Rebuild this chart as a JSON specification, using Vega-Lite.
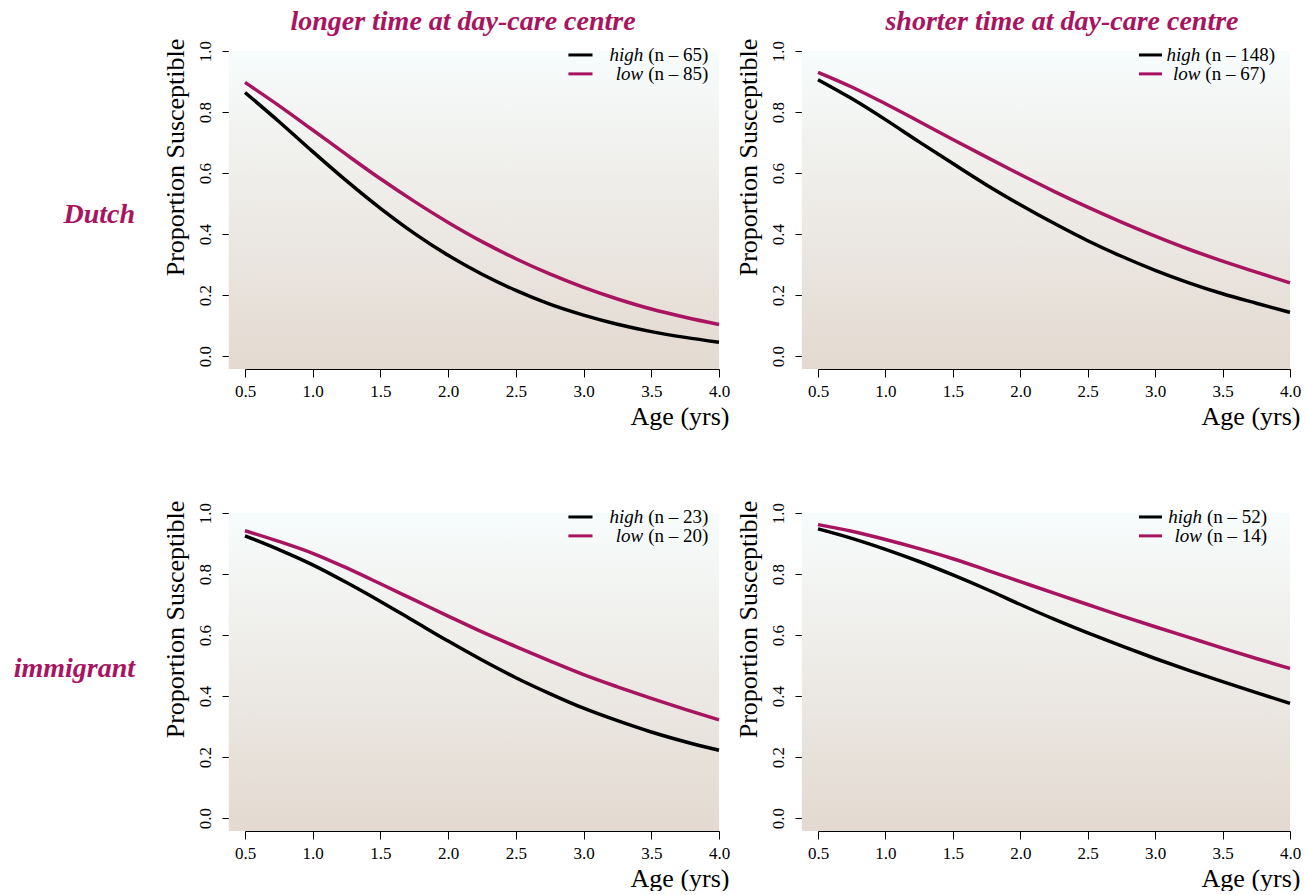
{
  "$schema": "https://vega.github.io/schema/vega-lite/v6.json",
  "background": "white",
  "padding": {"left": 13, "top": 8, "right": 5, "bottom": 0},
  "config": {
    "font": "Liberation Serif",
    "view": {"stroke": null},
    "axis": {"grid": false, "domainColor": "black", "tickColor": "black", "labelColor": "black", "titleColor": "black", "labelFontSize": 17, "titleFontSize": 26, "titleFontWeight": "normal", "tickSize": 8, "labelFlush": false, "labelOverlap": false},
    "axisX": {"offset": 13, "labelPadding": 6, "titleAnchor": "end", "titleAlign": "right", "titleX": 484, "titlePadding": 4},
    "axisY": {"offset": 15, "labelPadding": 8, "labelAngle": 270, "labelAlign": "center", "labelBaseline": "bottom", "titleAngle": 270, "titleAlign": "center", "titleY": 106, "titlePadding": 8}
  },
  "datasets": {
    "curves": [
      {"origin":"Dutch","time":"longer","risk":"high","age":0.5,"prop":0.864},{"origin":"Dutch","time":"longer","risk":"high","age":0.75,"prop":0.769},{"origin":"Dutch","time":"longer","risk":"high","age":1,"prop":0.670},{"origin":"Dutch","time":"longer","risk":"high","age":1.25,"prop":0.574},{"origin":"Dutch","time":"longer","risk":"high","age":1.5,"prop":0.484},{"origin":"Dutch","time":"longer","risk":"high","age":1.75,"prop":0.402},{"origin":"Dutch","time":"longer","risk":"high","age":2,"prop":0.330},{"origin":"Dutch","time":"longer","risk":"high","age":2.25,"prop":0.268},{"origin":"Dutch","time":"longer","risk":"high","age":2.5,"prop":0.215},{"origin":"Dutch","time":"longer","risk":"high","age":2.75,"prop":0.170},{"origin":"Dutch","time":"longer","risk":"high","age":3,"prop":0.134},{"origin":"Dutch","time":"longer","risk":"high","age":3.25,"prop":0.104},{"origin":"Dutch","time":"longer","risk":"high","age":3.5,"prop":0.080},{"origin":"Dutch","time":"longer","risk":"high","age":3.75,"prop":0.061},{"origin":"Dutch","time":"longer","risk":"high","age":4,"prop":0.045},
      {"origin":"Dutch","time":"longer","risk":"low","age":0.5,"prop":0.897},{"origin":"Dutch","time":"longer","risk":"low","age":0.75,"prop":0.821},{"origin":"Dutch","time":"longer","risk":"low","age":1,"prop":0.741},{"origin":"Dutch","time":"longer","risk":"low","age":1.25,"prop":0.660},{"origin":"Dutch","time":"longer","risk":"low","age":1.5,"prop":0.581},{"origin":"Dutch","time":"longer","risk":"low","age":1.75,"prop":0.507},{"origin":"Dutch","time":"longer","risk":"low","age":2,"prop":0.438},{"origin":"Dutch","time":"longer","risk":"low","age":2.25,"prop":0.375},{"origin":"Dutch","time":"longer","risk":"low","age":2.5,"prop":0.319},{"origin":"Dutch","time":"longer","risk":"low","age":2.75,"prop":0.269},{"origin":"Dutch","time":"longer","risk":"low","age":3,"prop":0.225},{"origin":"Dutch","time":"longer","risk":"low","age":3.25,"prop":0.187},{"origin":"Dutch","time":"longer","risk":"low","age":3.5,"prop":0.154},{"origin":"Dutch","time":"longer","risk":"low","age":3.75,"prop":0.127},{"origin":"Dutch","time":"longer","risk":"low","age":4,"prop":0.103},
      {"origin":"Dutch","time":"shorter","risk":"high","age":0.5,"prop":0.906},{"origin":"Dutch","time":"shorter","risk":"high","age":0.75,"prop":0.844},{"origin":"Dutch","time":"shorter","risk":"high","age":1,"prop":0.775},{"origin":"Dutch","time":"shorter","risk":"high","age":1.25,"prop":0.702},{"origin":"Dutch","time":"shorter","risk":"high","age":1.5,"prop":0.631},{"origin":"Dutch","time":"shorter","risk":"high","age":1.75,"prop":0.561},{"origin":"Dutch","time":"shorter","risk":"high","age":2,"prop":0.496},{"origin":"Dutch","time":"shorter","risk":"high","age":2.25,"prop":0.435},{"origin":"Dutch","time":"shorter","risk":"high","age":2.5,"prop":0.378},{"origin":"Dutch","time":"shorter","risk":"high","age":2.75,"prop":0.327},{"origin":"Dutch","time":"shorter","risk":"high","age":3,"prop":0.281},{"origin":"Dutch","time":"shorter","risk":"high","age":3.25,"prop":0.240},{"origin":"Dutch","time":"shorter","risk":"high","age":3.5,"prop":0.204},{"origin":"Dutch","time":"shorter","risk":"high","age":3.75,"prop":0.173},{"origin":"Dutch","time":"shorter","risk":"high","age":4,"prop":0.143},
      {"origin":"Dutch","time":"shorter","risk":"low","age":0.5,"prop":0.930},{"origin":"Dutch","time":"shorter","risk":"low","age":0.75,"prop":0.882},{"origin":"Dutch","time":"shorter","risk":"low","age":1,"prop":0.827},{"origin":"Dutch","time":"shorter","risk":"low","age":1.25,"prop":0.769},{"origin":"Dutch","time":"shorter","risk":"low","age":1.5,"prop":0.710},{"origin":"Dutch","time":"shorter","risk":"low","age":1.75,"prop":0.652},{"origin":"Dutch","time":"shorter","risk":"low","age":2,"prop":0.595},{"origin":"Dutch","time":"shorter","risk":"low","age":2.25,"prop":0.540},{"origin":"Dutch","time":"shorter","risk":"low","age":2.5,"prop":0.488},{"origin":"Dutch","time":"shorter","risk":"low","age":2.75,"prop":0.439},{"origin":"Dutch","time":"shorter","risk":"low","age":3,"prop":0.393},{"origin":"Dutch","time":"shorter","risk":"low","age":3.25,"prop":0.350},{"origin":"Dutch","time":"shorter","risk":"low","age":3.5,"prop":0.311},{"origin":"Dutch","time":"shorter","risk":"low","age":3.75,"prop":0.275},{"origin":"Dutch","time":"shorter","risk":"low","age":4,"prop":0.240},
      {"origin":"immigrant","time":"longer","risk":"high","age":0.5,"prop":0.925},{"origin":"immigrant","time":"longer","risk":"high","age":0.75,"prop":0.880},{"origin":"immigrant","time":"longer","risk":"high","age":1,"prop":0.830},{"origin":"immigrant","time":"longer","risk":"high","age":1.25,"prop":0.772},{"origin":"immigrant","time":"longer","risk":"high","age":1.5,"prop":0.710},{"origin":"immigrant","time":"longer","risk":"high","age":1.75,"prop":0.645},{"origin":"immigrant","time":"longer","risk":"high","age":2,"prop":0.580},{"origin":"immigrant","time":"longer","risk":"high","age":2.25,"prop":0.518},{"origin":"immigrant","time":"longer","risk":"high","age":2.5,"prop":0.460},{"origin":"immigrant","time":"longer","risk":"high","age":2.75,"prop":0.408},{"origin":"immigrant","time":"longer","risk":"high","age":3,"prop":0.360},{"origin":"immigrant","time":"longer","risk":"high","age":3.25,"prop":0.319},{"origin":"immigrant","time":"longer","risk":"high","age":3.5,"prop":0.282},{"origin":"immigrant","time":"longer","risk":"high","age":3.75,"prop":0.250},{"origin":"immigrant","time":"longer","risk":"high","age":4,"prop":0.222},
      {"origin":"immigrant","time":"longer","risk":"low","age":0.5,"prop":0.942},{"origin":"immigrant","time":"longer","risk":"low","age":0.75,"prop":0.907},{"origin":"immigrant","time":"longer","risk":"low","age":1,"prop":0.868},{"origin":"immigrant","time":"longer","risk":"low","age":1.25,"prop":0.820},{"origin":"immigrant","time":"longer","risk":"low","age":1.5,"prop":0.768},{"origin":"immigrant","time":"longer","risk":"low","age":1.75,"prop":0.715},{"origin":"immigrant","time":"longer","risk":"low","age":2,"prop":0.662},{"origin":"immigrant","time":"longer","risk":"low","age":2.25,"prop":0.610},{"origin":"immigrant","time":"longer","risk":"low","age":2.5,"prop":0.562},{"origin":"immigrant","time":"longer","risk":"low","age":2.75,"prop":0.515},{"origin":"immigrant","time":"longer","risk":"low","age":3,"prop":0.470},{"origin":"immigrant","time":"longer","risk":"low","age":3.25,"prop":0.430},{"origin":"immigrant","time":"longer","risk":"low","age":3.5,"prop":0.392},{"origin":"immigrant","time":"longer","risk":"low","age":3.75,"prop":0.356},{"origin":"immigrant","time":"longer","risk":"low","age":4,"prop":0.322},
      {"origin":"immigrant","time":"shorter","risk":"high","age":0.5,"prop":0.948},{"origin":"immigrant","time":"shorter","risk":"high","age":0.75,"prop":0.917},{"origin":"immigrant","time":"shorter","risk":"high","age":1,"prop":0.881},{"origin":"immigrant","time":"shorter","risk":"high","age":1.25,"prop":0.841},{"origin":"immigrant","time":"shorter","risk":"high","age":1.5,"prop":0.797},{"origin":"immigrant","time":"shorter","risk":"high","age":1.75,"prop":0.750},{"origin":"immigrant","time":"shorter","risk":"high","age":2,"prop":0.700},{"origin":"immigrant","time":"shorter","risk":"high","age":2.25,"prop":0.652},{"origin":"immigrant","time":"shorter","risk":"high","age":2.5,"prop":0.607},{"origin":"immigrant","time":"shorter","risk":"high","age":2.75,"prop":0.564},{"origin":"immigrant","time":"shorter","risk":"high","age":3,"prop":0.523},{"origin":"immigrant","time":"shorter","risk":"high","age":3.25,"prop":0.484},{"origin":"immigrant","time":"shorter","risk":"high","age":3.5,"prop":0.447},{"origin":"immigrant","time":"shorter","risk":"high","age":3.75,"prop":0.411},{"origin":"immigrant","time":"shorter","risk":"high","age":4,"prop":0.376},
      {"origin":"immigrant","time":"shorter","risk":"low","age":0.5,"prop":0.962},{"origin":"immigrant","time":"shorter","risk":"low","age":0.75,"prop":0.940},{"origin":"immigrant","time":"shorter","risk":"low","age":1,"prop":0.913},{"origin":"immigrant","time":"shorter","risk":"low","age":1.25,"prop":0.883},{"origin":"immigrant","time":"shorter","risk":"low","age":1.5,"prop":0.850},{"origin":"immigrant","time":"shorter","risk":"low","age":1.75,"prop":0.813},{"origin":"immigrant","time":"shorter","risk":"low","age":2,"prop":0.775},{"origin":"immigrant","time":"shorter","risk":"low","age":2.25,"prop":0.737},{"origin":"immigrant","time":"shorter","risk":"low","age":2.5,"prop":0.700},{"origin":"immigrant","time":"shorter","risk":"low","age":2.75,"prop":0.663},{"origin":"immigrant","time":"shorter","risk":"low","age":3,"prop":0.627},{"origin":"immigrant","time":"shorter","risk":"low","age":3.25,"prop":0.592},{"origin":"immigrant","time":"shorter","risk":"low","age":3.5,"prop":0.557},{"origin":"immigrant","time":"shorter","risk":"low","age":3.75,"prop":0.523},{"origin":"immigrant","time":"shorter","risk":"low","age":4,"prop":0.490}
    ],
    "legend": [
      {"origin":"Dutch","time":"longer","risk":"high","n":"(n – 65)"},
      {"origin":"Dutch","time":"longer","risk":"low","n":"(n – 85)"},
      {"origin":"Dutch","time":"shorter","risk":"high","n":"(n – 148)"},
      {"origin":"Dutch","time":"shorter","risk":"low","n":"(n – 67)"},
      {"origin":"immigrant","time":"longer","risk":"high","n":"(n – 23)"},
      {"origin":"immigrant","time":"longer","risk":"low","n":"(n – 20)"},
      {"origin":"immigrant","time":"shorter","risk":"high","n":"(n – 52)"},
      {"origin":"immigrant","time":"shorter","risk":"low","n":"(n – 14)"}
    ]
  },
  "spacing": 71,
  "vconcat": [
    {
      "title": {"text": "Dutch", "orient": "left", "angle": 0, "align": "left", "baseline": "middle", "anchor": "middle", "offset": 27, "dy": -4, "fontSize": 28, "fontStyle": "italic", "fontWeight": "bold", "color": "#A8145F"},
      "spacing": 4,
      "hconcat": [
        {
          "width": 474, "height": 305,
          "title": {"text": "longer time at day-care centre", "fontSize": 28, "fontStyle": "italic", "fontWeight": "bold", "color": "#A8145F", "anchor": "middle", "offset": 2, "dx": -19},
          "layer": [
            {"data": {"values": [{"bg": 1}]}, "mark": {"type": "rect", "color": {"gradient": "linear", "x1": 0, "y1": 0, "x2": 0, "y2": 1, "stops": [{"offset": 0, "color": "#F7FCFC"}, {"offset": 1, "color": "#E3D9D0"}]}},
             "encoding": {"x": {"datum": 0.38, "type": "quantitative", "scale": {"domain": [0.5, 4], "nice": false, "zero": false}, "axis": {"values": [0.5, 1, 1.5, 2, 2.5, 3, 3.5, 4], "format": ".1f"}}, "x2": {"datum": 4}, "y": {"datum": -0.043, "type": "quantitative", "scale": {"domain": [0, 1], "nice": false}, "axis": {"values": [0, 0.2, 0.4, 0.6, 0.8, 1], "format": ".1f"}}, "y2": {"datum": 1}}},
            {"data": {"name": "curves"}, "transform": [{"filter": "datum.origin == 'Dutch' && datum.time == 'longer'"}], "mark": {"type": "line", "strokeWidth": 3.5, "interpolate": "monotone"},
             "encoding": {"x": {"field": "age", "type": "quantitative", "title": "Age (yrs)"}, "y": {"field": "prop", "type": "quantitative", "title": "Proportion Susceptible"}, "color": {"field": "risk", "type": "nominal", "scale": {"domain": ["high", "low"], "range": ["#000000", "#A8145F"]}, "legend": null}}},
            {"data": {"name": "legend"}, "transform": [{"filter": "datum.origin == 'Dutch' && datum.time == 'longer' && datum.risk == 'high'"}], "mark": {"type": "rule", "strokeWidth": 3}, "encoding": {"x": {"datum": 2.888}, "x2": {"datum": 3.066}, "y": {"datum": 0.987}, "color": {"field": "risk", "type": "nominal", "legend": null}}},
            {"data": {"name": "legend"}, "transform": [{"filter": "datum.origin == 'Dutch' && datum.time == 'longer' && datum.risk == 'low'"}], "mark": {"type": "rule", "strokeWidth": 3}, "encoding": {"x": {"datum": 2.888}, "x2": {"datum": 3.066}, "y": {"datum": 0.925}, "color": {"field": "risk", "type": "nominal", "legend": null}}},
            {"data": {"name": "legend"}, "transform": [{"filter": "datum.origin == 'Dutch' && datum.time == 'longer' && datum.risk == 'high'"}], "mark": {"type": "text", "fontSize": 19, "fontStyle": "italic", "align": "right", "baseline": "middle", "dx": -2}, "encoding": {"x": {"datum": 3.455}, "y": {"datum": 0.987}, "text": {"field": "risk"}}},
            {"data": {"name": "legend"}, "transform": [{"filter": "datum.origin == 'Dutch' && datum.time == 'longer' && datum.risk == 'low'"}], "mark": {"type": "text", "fontSize": 19, "fontStyle": "italic", "align": "right", "baseline": "middle", "dx": -2}, "encoding": {"x": {"datum": 3.455}, "y": {"datum": 0.925}, "text": {"field": "risk"}}},
            {"data": {"name": "legend"}, "transform": [{"filter": "datum.origin == 'Dutch' && datum.time == 'longer' && datum.risk == 'high'"}], "mark": {"type": "text", "fontSize": 19, "align": "left", "baseline": "middle", "dx": 3}, "encoding": {"x": {"datum": 3.455}, "y": {"datum": 0.987}, "text": {"field": "n"}}},
            {"data": {"name": "legend"}, "transform": [{"filter": "datum.origin == 'Dutch' && datum.time == 'longer' && datum.risk == 'low'"}], "mark": {"type": "text", "fontSize": 19, "align": "left", "baseline": "middle", "dx": 3}, "encoding": {"x": {"datum": 3.455}, "y": {"datum": 0.925}, "text": {"field": "n"}}}
          ]
        },
        {
          "width": 472, "height": 305,
          "title": {"text": "shorter time at day-care centre", "fontSize": 28, "fontStyle": "italic", "fontWeight": "bold", "color": "#A8145F", "anchor": "middle", "offset": 2, "dx": 8},
          "layer": [
            {"data": {"values": [{"bg": 1}]}, "mark": {"type": "rect", "color": {"gradient": "linear", "x1": 0, "y1": 0, "x2": 0, "y2": 1, "stops": [{"offset": 0, "color": "#F7FCFC"}, {"offset": 1, "color": "#E3D9D0"}]}},
             "encoding": {"x": {"datum": 0.38, "type": "quantitative", "scale": {"domain": [0.5, 4], "nice": false, "zero": false}, "axis": {"values": [0.5, 1, 1.5, 2, 2.5, 3, 3.5, 4], "format": ".1f", "titleX": 482}}, "x2": {"datum": 4}, "y": {"datum": -0.043, "type": "quantitative", "scale": {"domain": [0, 1], "nice": false}, "axis": {"values": [0, 0.2, 0.4, 0.6, 0.8, 1], "format": ".1f"}}, "y2": {"datum": 1}}},
            {"data": {"name": "curves"}, "transform": [{"filter": "datum.origin == 'Dutch' && datum.time == 'shorter'"}], "mark": {"type": "line", "strokeWidth": 3.5, "interpolate": "monotone"},
             "encoding": {"x": {"field": "age", "type": "quantitative", "title": "Age (yrs)"}, "y": {"field": "prop", "type": "quantitative", "title": "Proportion Susceptible"}, "color": {"field": "risk", "type": "nominal", "scale": {"domain": ["high", "low"], "range": ["#000000", "#A8145F"]}, "legend": null}}},
            {"data": {"name": "legend"}, "transform": [{"filter": "datum.origin == 'Dutch' && datum.time == 'shorter' && datum.risk == 'high'"}], "mark": {"type": "rule", "strokeWidth": 3}, "encoding": {"x": {"datum": 2.88}, "x2": {"datum": 3.051}, "y": {"datum": 0.987}, "color": {"field": "risk", "type": "nominal", "legend": null}}},
            {"data": {"name": "legend"}, "transform": [{"filter": "datum.origin == 'Dutch' && datum.time == 'shorter' && datum.risk == 'low'"}], "mark": {"type": "rule", "strokeWidth": 3}, "encoding": {"x": {"datum": 2.88}, "x2": {"datum": 3.051}, "y": {"datum": 0.925}, "color": {"field": "risk", "type": "nominal", "legend": null}}},
            {"data": {"name": "legend"}, "transform": [{"filter": "datum.origin == 'Dutch' && datum.time == 'shorter' && datum.risk == 'high'"}], "mark": {"type": "text", "fontSize": 19, "fontStyle": "italic", "align": "right", "baseline": "middle", "dx": -2}, "encoding": {"x": {"datum": 3.35}, "y": {"datum": 0.987}, "text": {"field": "risk"}}},
            {"data": {"name": "legend"}, "transform": [{"filter": "datum.origin == 'Dutch' && datum.time == 'shorter' && datum.risk == 'low'"}], "mark": {"type": "text", "fontSize": 19, "fontStyle": "italic", "align": "right", "baseline": "middle", "dx": -2}, "encoding": {"x": {"datum": 3.35}, "y": {"datum": 0.925}, "text": {"field": "risk"}}},
            {"data": {"name": "legend"}, "transform": [{"filter": "datum.origin == 'Dutch' && datum.time == 'shorter' && datum.risk == 'high'"}], "mark": {"type": "text", "fontSize": 19, "align": "left", "baseline": "middle", "dx": 3}, "encoding": {"x": {"datum": 3.35}, "y": {"datum": 0.987}, "text": {"field": "n"}}},
            {"data": {"name": "legend"}, "transform": [{"filter": "datum.origin == 'Dutch' && datum.time == 'shorter' && datum.risk == 'low'"}], "mark": {"type": "text", "fontSize": 19, "align": "left", "baseline": "middle", "dx": 3}, "encoding": {"x": {"datum": 3.35}, "y": {"datum": 0.925}, "text": {"field": "n"}}}
          ]
        }
      ]
    },
    {
      "title": {"text": "immigrant", "orient": "left", "angle": 0, "align": "left", "baseline": "middle", "anchor": "middle", "offset": 27, "dy": -27, "fontSize": 28, "fontStyle": "italic", "fontWeight": "bold", "color": "#A8145F"},
      "spacing": 4,
      "hconcat": [
        {
          "width": 474, "height": 305,
          "layer": [
            {"data": {"values": [{"bg": 1}]}, "mark": {"type": "rect", "color": {"gradient": "linear", "x1": 0, "y1": 0, "x2": 0, "y2": 1, "stops": [{"offset": 0, "color": "#F7FCFC"}, {"offset": 1, "color": "#E3D9D0"}]}},
             "encoding": {"x": {"datum": 0.38, "type": "quantitative", "scale": {"domain": [0.5, 4], "nice": false, "zero": false}, "axis": {"values": [0.5, 1, 1.5, 2, 2.5, 3, 3.5, 4], "format": ".1f"}}, "x2": {"datum": 4}, "y": {"datum": -0.043, "type": "quantitative", "scale": {"domain": [0, 1], "nice": false}, "axis": {"values": [0, 0.2, 0.4, 0.6, 0.8, 1], "format": ".1f"}}, "y2": {"datum": 1}}},
            {"data": {"name": "curves"}, "transform": [{"filter": "datum.origin == 'immigrant' && datum.time == 'longer'"}], "mark": {"type": "line", "strokeWidth": 3.5, "interpolate": "monotone"},
             "encoding": {"x": {"field": "age", "type": "quantitative", "title": "Age (yrs)"}, "y": {"field": "prop", "type": "quantitative", "title": "Proportion Susceptible"}, "color": {"field": "risk", "type": "nominal", "scale": {"domain": ["high", "low"], "range": ["#000000", "#A8145F"]}, "legend": null}}},
            {"data": {"name": "legend"}, "transform": [{"filter": "datum.origin == 'immigrant' && datum.time == 'longer' && datum.risk == 'high'"}], "mark": {"type": "rule", "strokeWidth": 3}, "encoding": {"x": {"datum": 2.888}, "x2": {"datum": 3.066}, "y": {"datum": 0.987}, "color": {"field": "risk", "type": "nominal", "legend": null}}},
            {"data": {"name": "legend"}, "transform": [{"filter": "datum.origin == 'immigrant' && datum.time == 'longer' && datum.risk == 'low'"}], "mark": {"type": "rule", "strokeWidth": 3}, "encoding": {"x": {"datum": 2.888}, "x2": {"datum": 3.066}, "y": {"datum": 0.925}, "color": {"field": "risk", "type": "nominal", "legend": null}}},
            {"data": {"name": "legend"}, "transform": [{"filter": "datum.origin == 'immigrant' && datum.time == 'longer' && datum.risk == 'high'"}], "mark": {"type": "text", "fontSize": 19, "fontStyle": "italic", "align": "right", "baseline": "middle", "dx": -2}, "encoding": {"x": {"datum": 3.455}, "y": {"datum": 0.987}, "text": {"field": "risk"}}},
            {"data": {"name": "legend"}, "transform": [{"filter": "datum.origin == 'immigrant' && datum.time == 'longer' && datum.risk == 'low'"}], "mark": {"type": "text", "fontSize": 19, "fontStyle": "italic", "align": "right", "baseline": "middle", "dx": -2}, "encoding": {"x": {"datum": 3.455}, "y": {"datum": 0.925}, "text": {"field": "risk"}}},
            {"data": {"name": "legend"}, "transform": [{"filter": "datum.origin == 'immigrant' && datum.time == 'longer' && datum.risk == 'high'"}], "mark": {"type": "text", "fontSize": 19, "align": "left", "baseline": "middle", "dx": 3}, "encoding": {"x": {"datum": 3.455}, "y": {"datum": 0.987}, "text": {"field": "n"}}},
            {"data": {"name": "legend"}, "transform": [{"filter": "datum.origin == 'immigrant' && datum.time == 'longer' && datum.risk == 'low'"}], "mark": {"type": "text", "fontSize": 19, "align": "left", "baseline": "middle", "dx": 3}, "encoding": {"x": {"datum": 3.455}, "y": {"datum": 0.925}, "text": {"field": "n"}}}
          ]
        },
        {
          "width": 472, "height": 305,
          "layer": [
            {"data": {"values": [{"bg": 1}]}, "mark": {"type": "rect", "color": {"gradient": "linear", "x1": 0, "y1": 0, "x2": 0, "y2": 1, "stops": [{"offset": 0, "color": "#F7FCFC"}, {"offset": 1, "color": "#E3D9D0"}]}},
             "encoding": {"x": {"datum": 0.38, "type": "quantitative", "scale": {"domain": [0.5, 4], "nice": false, "zero": false}, "axis": {"values": [0.5, 1, 1.5, 2, 2.5, 3, 3.5, 4], "format": ".1f", "titleX": 482}}, "x2": {"datum": 4}, "y": {"datum": -0.043, "type": "quantitative", "scale": {"domain": [0, 1], "nice": false}, "axis": {"values": [0, 0.2, 0.4, 0.6, 0.8, 1], "format": ".1f"}}, "y2": {"datum": 1}}},
            {"data": {"name": "curves"}, "transform": [{"filter": "datum.origin == 'immigrant' && datum.time == 'shorter'"}], "mark": {"type": "line", "strokeWidth": 3.5, "interpolate": "monotone"},
             "encoding": {"x": {"field": "age", "type": "quantitative", "title": "Age (yrs)"}, "y": {"field": "prop", "type": "quantitative", "title": "Proportion Susceptible"}, "color": {"field": "risk", "type": "nominal", "scale": {"domain": ["high", "low"], "range": ["#000000", "#A8145F"]}, "legend": null}}},
            {"data": {"name": "legend"}, "transform": [{"filter": "datum.origin == 'immigrant' && datum.time == 'shorter' && datum.risk == 'high'"}], "mark": {"type": "rule", "strokeWidth": 3}, "encoding": {"x": {"datum": 2.88}, "x2": {"datum": 3.051}, "y": {"datum": 0.987}, "color": {"field": "risk", "type": "nominal", "legend": null}}},
            {"data": {"name": "legend"}, "transform": [{"filter": "datum.origin == 'immigrant' && datum.time == 'shorter' && datum.risk == 'low'"}], "mark": {"type": "rule", "strokeWidth": 3}, "encoding": {"x": {"datum": 2.88}, "x2": {"datum": 3.051}, "y": {"datum": 0.925}, "color": {"field": "risk", "type": "nominal", "legend": null}}},
            {"data": {"name": "legend"}, "transform": [{"filter": "datum.origin == 'immigrant' && datum.time == 'shorter' && datum.risk == 'high'"}], "mark": {"type": "text", "fontSize": 19, "fontStyle": "italic", "align": "right", "baseline": "middle", "dx": -2}, "encoding": {"x": {"datum": 3.362}, "y": {"datum": 0.987}, "text": {"field": "risk"}}},
            {"data": {"name": "legend"}, "transform": [{"filter": "datum.origin == 'immigrant' && datum.time == 'shorter' && datum.risk == 'low'"}], "mark": {"type": "text", "fontSize": 19, "fontStyle": "italic", "align": "right", "baseline": "middle", "dx": -2}, "encoding": {"x": {"datum": 3.362}, "y": {"datum": 0.925}, "text": {"field": "risk"}}},
            {"data": {"name": "legend"}, "transform": [{"filter": "datum.origin == 'immigrant' && datum.time == 'shorter' && datum.risk == 'high'"}], "mark": {"type": "text", "fontSize": 19, "align": "left", "baseline": "middle", "dx": 3}, "encoding": {"x": {"datum": 3.362}, "y": {"datum": 0.987}, "text": {"field": "n"}}},
            {"data": {"name": "legend"}, "transform": [{"filter": "datum.origin == 'immigrant' && datum.time == 'shorter' && datum.risk == 'low'"}], "mark": {"type": "text", "fontSize": 19, "align": "left", "baseline": "middle", "dx": 3}, "encoding": {"x": {"datum": 3.362}, "y": {"datum": 0.925}, "text": {"field": "n"}}}
          ]
        }
      ]
    }
  ]
}
